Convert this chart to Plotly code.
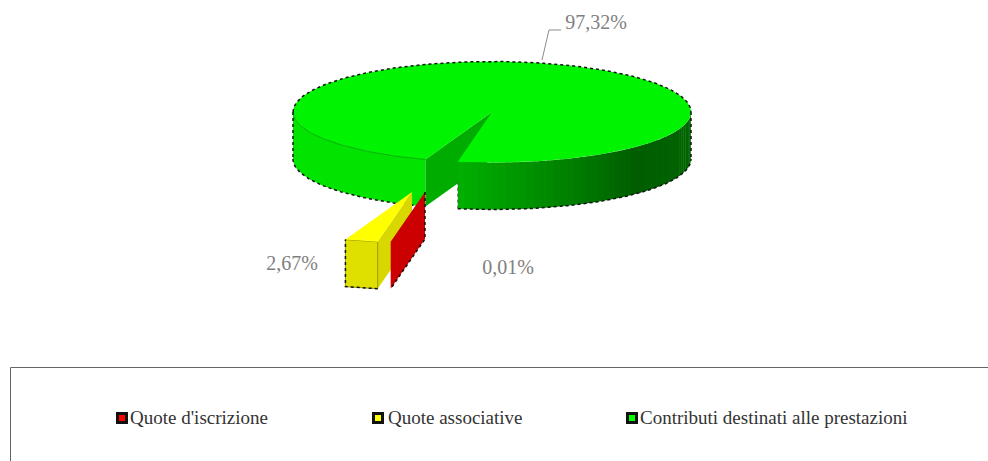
"""3D exploded pie of contribution shares, drawn on a pixel-sized cartesian frame."""

import numpy as np
import plotly.graph_objects as go

categories = ["Quote d'iscrizione", "Quote associative", "Contributi destinati alle prestazioni"]
shares = [0.01, 2.67, 97.32]
share_labels = ["0,01%", "2,67%", "97,32%"]

WIDTH, HEIGHT = 988, 461
CX, CY, RX, RY, DEPTH = 492, 112, 199, 50.5, 47
START_ANGLE = 9.9  # degrees clockwise from the bottom of the ellipse
EXPLODE = {0: (-67, 80), 1: (-80, 80), 2: (0, 0)}
TEXT_GREY = "#808080"
FONT = "Liberation Serif"


def rim(angle, dx=0, dy=0):
    """Point on the top ellipse; the angle runs clockwise from the bottom."""
    rad = np.radians(angle)
    return CX + dx - RX * np.sin(rad), CY + dy + RY * np.cos(rad)


def arc(a0, a1, dx=0, dy=0, step=1.0):
    angles = np.linspace(a0, a1, max(2, int(abs(a1 - a0) / step) + 1))
    xs, ys = rim(angles, dx, dy)
    return list(xs), list(ys)


def poly(fig, xs, ys, color, line="rgba(0,0,0,0)", width=0, dash="solid"):
    fig.add_trace(go.Scatter(
        x=xs + xs[:1], y=ys + ys[:1], mode="lines", fill="toself", fillcolor=color,
        line=dict(color=line, width=width, dash=dash), hoverinfo="skip", showlegend=False,
    ))


def side(fig, a0, a1, color):
    x0, y0 = arc(a0, a1, step=0.5)
    poly(fig, x0 + x0[::-1], y0 + [y + DEPTH for y in y0[::-1]], color)


def line(fig, xs, ys, color, width=1, dash="solid"):
    fig.add_trace(go.Scatter(
        x=xs, y=ys, mode="lines", line=dict(color=color, width=width, dash=dash),
        hoverinfo="skip", showlegend=False,
    ))


def right_shade(angle):
    """Dark green gradient across the right hand rim."""
    u = min((START_ANGLE - angle) % 360, 90) / 90
    if u < 0.6:
        g = 176 + (94 - 176) * u / 0.6
    else:
        g = 94 + (102 - 94) * (u - 0.6) / 0.4
    return f"rgb(0,{int(g)},0)"


angles = START_ANGLE + np.cumsum([0] + shares) * 3.6
red_a0, red_a1 = angles[0], angles[1]
yellow_a0, yellow_a1 = angles[1], angles[2]
green_a0, green_a1 = angles[2], angles[3]

fig = go.Figure()

# green slice: left rim, wall of the notch, right rim, then the top
side(fig, green_a0, 90, "rgb(0,228,0)")
wx, wy = rim(green_a0)
poly(fig, [CX, wx, wx, CX], [CY, wy, wy + DEPTH, CY + DEPTH], "rgb(0,172,0)")
for a in np.arange(green_a1 - 360, -90, -2.0):
    side(fig, a, a - 2.4, right_shade(a))

top_x, top_y = arc(green_a0, green_a1)
poly(fig, [CX] + top_x, [CY] + top_y, "rgb(0,243,0)")
seam_x, seam_y = arc(green_a0, 90)
line(fig, seam_x, seam_y, "rgb(0,176,0)")

# silhouette of the green slice
OUTLINE = "#111111"
out_x, out_y = arc(green_a0, 90)
line(fig, out_x, [y + DEPTH for y in out_y], OUTLINE, 1.5, "dot")
out_x, out_y = arc(90, 270)
line(fig, out_x, out_y, OUTLINE, 1.5, "dot")
out_x, out_y = arc(green_a1 - 360, -90)
line(fig, out_x, [y + DEPTH for y in out_y], OUTLINE, 1.5, "dot")
lx, ly = rim(90)
line(fig, [lx, lx], [ly, ly + DEPTH], OUTLINE, 1.5, "dot")
rx, ry = rim(270)
line(fig, [rx, rx], [ry, ry + DEPTH], OUTLINE, 1.5, "dot")
nx, ny = rim(green_a1)
line(fig, [nx, nx], [ny + 20, ny + DEPTH], "#555555", 1, "dot")

# exploded yellow slice
dx, dy = EXPLODE[1]
ax, ay = CX + dx, CY + dy
ix, iy = rim(yellow_a0, dx, dy)
ox, oy = rim(yellow_a1, dx, dy)
poly(fig, [ax, ix, ix, ax], [ay, iy, iy + DEPTH, ay + DEPTH], "rgb(216,216,0)")
poly(fig, [ox, ix, ix, ox], [oy, iy, iy + DEPTH, oy + DEPTH], "rgb(224,224,0)", "#9a9a00", 1)
poly(fig, [ax, ix, ox], [ay, iy, oy], "rgb(255,255,0)")
line(fig, [ix, ox, ox], [iy + DEPTH, oy + DEPTH, oy], OUTLINE, 1.5, "dot")

# exploded red slice: nearly no angle, so only its wall shows
dx, dy = EXPLODE[0]
ax, ay = CX + dx, CY + dy
ix, iy = rim(red_a1, dx, dy)
poly(fig, [ax, ix, ix, ax], [ay, iy, iy + DEPTH, ay + DEPTH], "rgb(204,0,0)")
line(fig, [ax, ax, ix], [ay, ay + DEPTH, iy + DEPTH], OUTLINE, 1.5, "dot")

# leader line of the big slice
line(fig, [542, 549, 561], [60, 30, 30], "#8c8c8c")

# data labels
fig.add_trace(go.Scatter(
    x=[508, 292, 596], y=[269, 265, 24], mode="text", text=share_labels, textposition="middle center",
    textfont=dict(family=FONT, size=20, color=TEXT_GREY), hoverinfo="skip", showlegend=False,
))

# legend keys and texts
fig.add_trace(go.Scatter(
    x=[122, 378, 632], y=[418, 418, 418], mode="markers", hoverinfo="skip", showlegend=False,
    marker=dict(symbol="square", size=9, color=["#ff0000", "#ffff00", "#00ff00"], line=dict(color="#111111", width=3)),
))
fig.add_trace(go.Scatter(
    x=[130, 388, 640], y=[419, 419, 419], mode="text", text=categories, textposition="middle right",
    textfont=dict(family=FONT, size=19, color="#333333"), hoverinfo="skip", showlegend=False,
))

# legend frame runs off the right and bottom of the picture
fig.add_shape(type="rect", x0=10.5, x1=WIDTH + 20, y0=367.5, y1=HEIGHT + 20,
              line=dict(color="#666666", width=1), fillcolor="rgba(0,0,0,0)", layer="below")

fig.update_layout(
    width=WIDTH, height=HEIGHT, margin=dict(l=0, r=0, t=0, b=0),
    paper_bgcolor="white", plot_bgcolor="white", showlegend=False,
    xaxis=dict(range=[0, WIDTH], visible=False, fixedrange=True),
    yaxis=dict(range=[HEIGHT, 0], visible=False, fixedrange=True),
)

fig.write_html(
    "out.html",
    config=dict(displayModeBar=False),
    post_script="document.body.style.margin='0';document.body.style.overflow='hidden';",
)
